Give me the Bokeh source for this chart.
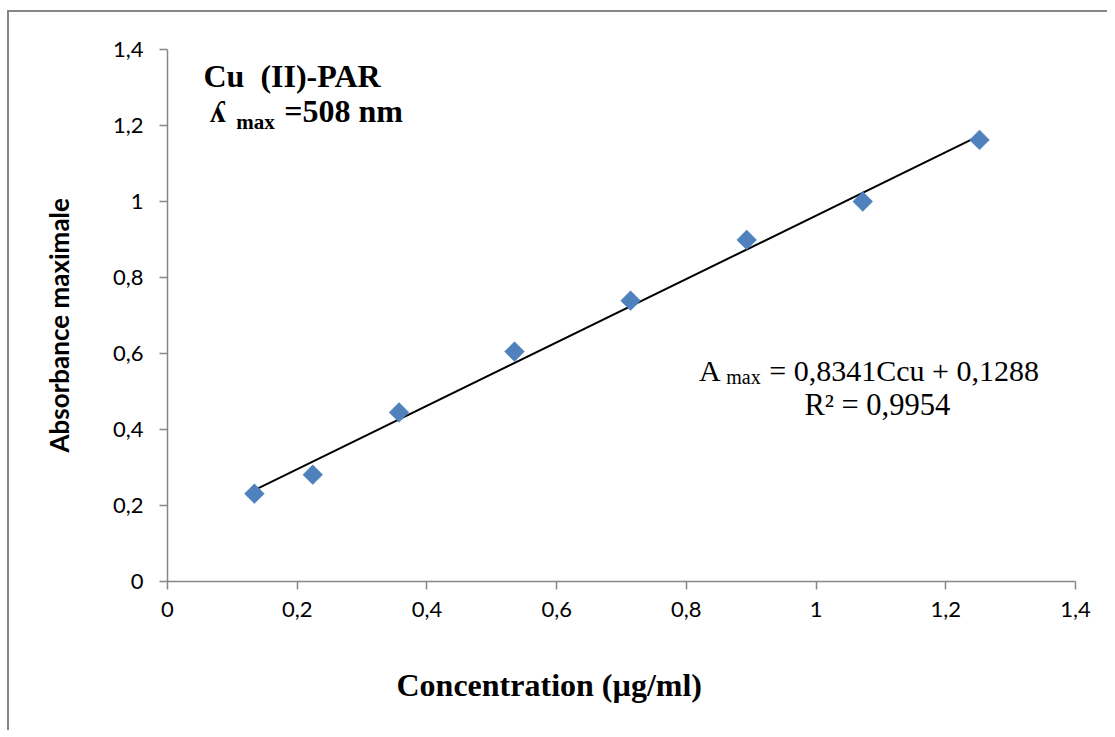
import numpy as np
from bokeh.plotting import figure
from bokeh.models import Range1d, Label, FixedTicker, ColumnDataSource, Title
from bokeh.embed import file_html
from bokeh.resources import INLINE

# ---- data ----
concentration = [0.134, 0.224, 0.357, 0.535, 0.714, 0.893, 1.072, 1.252]
absorbance = [0.231, 0.281, 0.445, 0.605, 0.739, 0.899, 1.0, 1.162]
slope = 0.8341
intercept = 0.1288
r_squared = 0.9954
tick_values = [0, 0.2, 0.4, 0.6, 0.8, 1.0, 1.2, 1.4]
tick_labels = ["0", "0,2", "0,4", "0,6", "0,8", "1", "1,2", "1,4"]

trend_x = [min(concentration), max(concentration)]
trend_y = [slope * v + intercept for v in trend_x]

GRAY = "#868686"
BLUE = "#4F81BD"

p = figure(width=1100, height=720, output_backend="svg", toolbar_location=None,
           x_range=Range1d(0, 1.4), y_range=Range1d(0, 1.4),
           min_border_left=158, min_border_right=34, min_border_top=37, min_border_bottom=151)
p.styles = {"border-left": "2px solid " + GRAY, "border-top": "2px solid " + GRAY,
            "margin-left": "7px", "margin-top": "10px"}
p.xgrid.visible = False
p.ygrid.visible = False
p.outline_line_color = None
p.background_fill_color = "white"
p.border_fill_color = "white"

for ax in (p.xaxis[0], p.yaxis[0]):
    ax.ticker = FixedTicker(ticks=tick_values)
    ax.major_label_overrides = {v: l for v, l in zip(tick_values, tick_labels)}
    ax.axis_line_color = GRAY
    ax.axis_line_width = 1.5
    ax.major_tick_line_color = GRAY
    ax.major_tick_line_width = 1.5
    ax.major_tick_in = 0
    ax.major_tick_out = 8
    ax.minor_tick_line_color = None
    ax.major_label_text_font = "Lato"
    ax.major_label_text_font_size = "22px"
    ax.major_label_text_color = "black"

p.yaxis[0].major_label_standoff = 16
p.xaxis[0].major_label_standoff = 12

# spacers so the axis titles sit where they do in the original
p.add_layout(Title(text=" ", text_font_size="1px", standoff=42), "below")
p.add_layout(Title(text="Concentration (µg/ml)", align="left", offset=229,
                   text_font="Liberation Serif", text_font_size="32px",
                   text_font_style="bold", text_color="black", standoff=0), "below")
p.add_layout(Title(text=" ", text_font_size="1px", standoff=32), "left")
p.add_layout(Title(text="Absorbance maximale", align="left", offset=129,
                   text_font="Lato", text_font_size="26px",
                   text_font_style="bold", text_color="black", standoff=0), "left")

p.line(trend_x, trend_y, line_color="black", line_width=2)
src = ColumnDataSource(dict(x=concentration, y=absorbance))
p.scatter("x", "y", source=src, marker="square", size=14, angle=np.pi / 4,
          fill_color=BLUE, line_color=BLUE, line_width=0.5)

def lab(x, y, text, size, style="normal", align="left"):
    p.add_layout(Label(x=x, y=y, text=text, text_font="Liberation Serif",
                       text_font_size=size, text_font_style=style,
                       text_align=align, text_baseline="alphabetic", text_color="black"))

def fmt(v):
    return str(v).replace(".", ",")

# title block
lab(0.0555, 1.331, "Cu\u00a0\u00a0(II)-PAR", "32px", "bold")
lab(0.0650, 1.237, "ʎ", "32px", "bold")
lab(0.1060, 1.208, "max", "21px", "bold")
lab(0.1800, 1.237, "=508 nm", "32px", "bold")

# equation
lab(0.8195, 0.555, "A", "30px")
lab(0.8615, 0.539, "max", "20px")
lab(0.9280, 0.555, "= " + fmt(slope) + "Ccu + " + fmt(intercept), "30px")
lab(0.9820, 0.4655, "R² = " + fmt(r_squared), "30.5px")

open("out.html", "w").write(file_html(p, INLINE))
